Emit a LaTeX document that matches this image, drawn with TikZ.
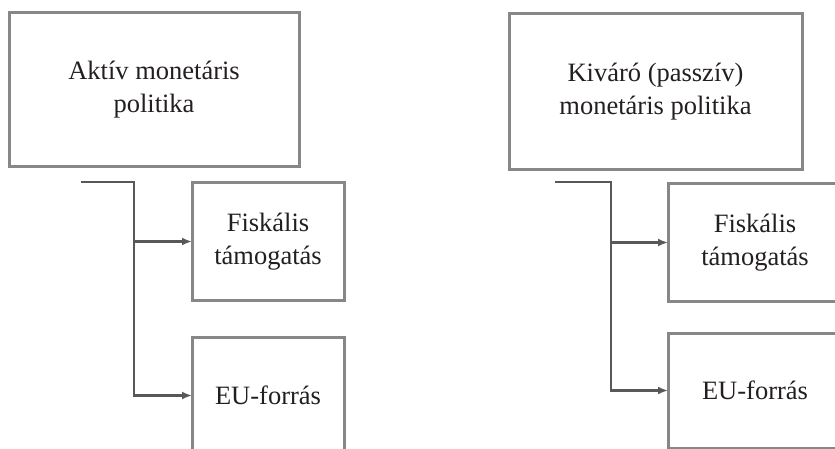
\documentclass[tikz,border=0pt]{standalone}
\usepackage{fontspec}
\setmainfont{Liberation Serif}
\usetikzlibrary{arrows.meta,positioning}
\definecolor{boxgray}{RGB}{135,135,135}
\definecolor{linegray}{RGB}{88,88,88}
\definecolor{txtblack}{RGB}{35,31,32}

\tikzset{
  polbox/.style={draw=boxgray, line width=3pt, outer sep=0pt, align=center,
    text=txtblack, font=\fontsize{26.5}{33}\selectfont},
  conn/.style={draw=linegray, line width=2.2pt}
}

\begin{document}
\begin{tikzpicture}[x=1pt, y=-1pt, >={Latex[length=10pt,width=8pt]}]
  \useasboundingbox (0,0) rectangle (835,449);
  \clip (0,0) rectangle (835,449);

  % left side: active policy
  \node[polbox, minimum width=290pt, minimum height=154pt] (aktiv) at (154,90) {Aktív monetáris\\politika};
  \node[polbox, minimum width=152pt, minimum height=117pt] (fisk) at (268,241.5) {Fiskális\\támogatás};
  \node[polbox, minimum width=152pt, minimum height=117pt, below=37pt of fisk] (eu) {EU-forrás};

  % right side: passive policy
  \node[polbox, minimum width=293pt, minimum height=156pt] (passziv) at (655.5,92) {Kiváró (passzív)\\monetáris politika};
  \node[polbox, minimum width=174pt, minimum height=118pt] (rfisk) at (755,242.5) {Fiskális\\támogatás};
  \node[polbox, minimum width=174pt, minimum height=115pt, below=31.5pt of rfisk] (reu) {EU-forrás};

  % connectors
  \coordinate (lstart) at (81,182);
  \coordinate (ltrunk) at (134,182);
  \draw[conn, ->] (lstart) -- (ltrunk) |- (eu.west);
  \draw[conn, ->] (ltrunk |- fisk.west) -- (fisk.west);

  \coordinate (rstart) at (555,182);
  \coordinate (rtrunk) at (611,182);
  \draw[conn, ->] (rstart) -- (rtrunk) |- (reu.west);
  \draw[conn, ->] (rtrunk |- rfisk.west) -- (rfisk.west);
\end{tikzpicture}
\end{document}
